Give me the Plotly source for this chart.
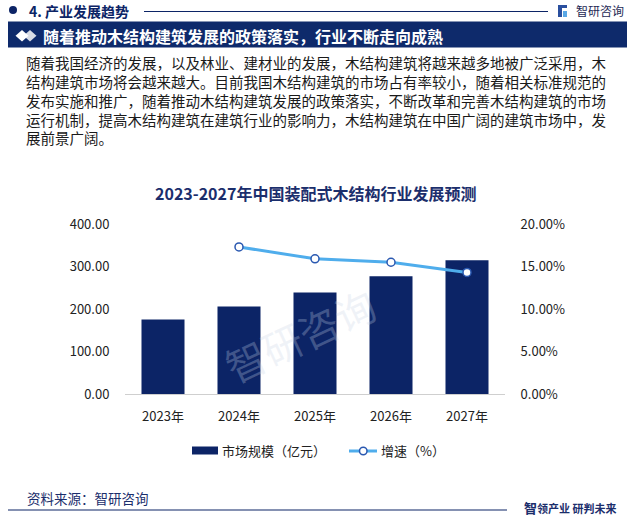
import plotly.graph_objects as go

# ---------------- data ----------------
years = ["2023年", "2024年", "2025年", "2026年", "2027年"]
market_size = [175.0, 206.0, 239.0, 277.0, 315.0]          # 市场规模（亿元）
growth_years = ["2024年", "2025年", "2026年", "2027年"]
growth_rate = [0.173, 0.159, 0.155, 0.143]                    # 增速（%）
left_ticks = [0, 100, 200, 300, 400]
right_ticks = [0, 0.05, 0.10, 0.15, 0.20]

W, H = 635, 522
FONT = "Noto Sans CJK SC"
NAVY = "#0c2466"
TITLE_NAVY = "#1b2e6c"
LINE_BLUE = "#4fadec"


def px(x):
    return x / W


def py(y):
    return 1 - y / H


fig = go.Figure()

fig.add_trace(go.Bar(
    x=years, y=market_size, name="市场规模（亿元）",
    marker=dict(color=NAVY, line=dict(width=0)),
    yaxis="y", showlegend=False,
))
fig.add_trace(go.Scatter(
    x=growth_years, y=growth_rate, name="增速（%）", mode="lines+markers",
    line=dict(color=LINE_BLUE, width=3),
    marker=dict(size=8, color="white", line=dict(color="#2a58b0", width=1.5)),
    yaxis="y2", showlegend=False,
))

tick_font = dict(family=FONT, size=13, color="#222222")

fig.update_layout(
    width=W, height=H, autosize=False,
    margin=dict(l=0, r=0, t=0, b=0, pad=0, autoexpand=False),
    paper_bgcolor="white", plot_bgcolor="white",
    showlegend=False,
    bargap=0.434,
    xaxis=dict(
        domain=[px(125), px(505)],
        type="category", categoryorder="array", categoryarray=years,
        showgrid=False, zeroline=False, automargin=False,
        showline=True, linecolor="#cfcfcf", linewidth=1,
        ticks="outside", ticklen=10, tickcolor="rgba(0,0,0,0)",
        tickfont=tick_font,
    ),
    yaxis=dict(
        domain=[py(394), py(224)],
        range=[0, 400], tickvals=left_ticks, tickformat=".2f",
        showgrid=False, zeroline=False, showline=False, automargin=False,
        ticks="outside", ticklen=12, tickcolor="rgba(0,0,0,0)",
        tickfont=tick_font,
    ),
    yaxis2=dict(
        domain=[py(394), py(224)],
        overlaying="y", side="right", anchor="x",
        range=[0, 0.2], tickvals=right_ticks, tickformat=".2%",
        showgrid=False, zeroline=False, showline=False, automargin=False,
        ticks="outside", ticklen=12, tickcolor="rgba(0,0,0,0)",
        tickfont=tick_font,
    ),
)

shapes = []
annotations = []

# ---------- faint watermark ----------
annotations.append(dict(x=px(300), y=py(335), xref="paper", yref="paper", text="智研咨询",
                        showarrow=False, textangle=-25,
                        font=dict(family=FONT, size=40, color="rgba(200,212,230,0.28)")))

# ---------- header ----------
shapes.append(dict(type="circle", xref="paper", yref="paper",
                   x0=px(9), x1=px(17), y0=py(14), y1=py(6),
                   fillcolor=NAVY, line=dict(width=0)))
annotations.append(dict(x=px(27), y=py(11.5), xref="paper", yref="paper",
                        xanchor="left", yanchor="middle", showarrow=False,
                        text="<b>4. 产业发展趋势</b>",
                        font=dict(family=FONT, size=14, color=NAVY)))
shapes.append(dict(type="line", xref="paper", yref="paper",
                   x0=px(144), x1=px(548), y0=py(11.5), y1=py(11.5),
                   line=dict(color=NAVY, width=1)))
# logo icon
shapes.append(dict(type="rect", xref="paper", yref="paper",
                   x0=px(558), x1=px(562), y0=py(17), y1=py(5),
                   fillcolor="#2a4f9e", line=dict(width=0)))
shapes.append(dict(type="rect", xref="paper", yref="paper",
                   x0=px(562), x1=px(567), y0=py(8), y1=py(5),
                   fillcolor="#2a4f9e", line=dict(width=0)))
shapes.append(dict(type="rect", xref="paper", yref="paper",
                   x0=px(563), x1=px(567), y0=py(17), y1=py(11),
                   fillcolor="#5aa8e6", line=dict(width=0)))
annotations.append(dict(x=px(574), y=py(10.5), xref="paper", yref="paper",
                        xanchor="left", yanchor="middle", showarrow=False,
                        text="智研咨询",
                        font=dict(family=FONT, size=12, color="#1e2a55")))

# banner
shapes.append(dict(type="rect", xref="paper", yref="paper",
                   x0=px(8), x1=px(627), y0=py(47.5), y1=py(21.5),
                   fillcolor="#0e2a6b", line=dict(width=0), layer="below"))
shapes.append(dict(type="path", xref="paper", yref="paper",
                   path=f"M {px(30)} {py(30)} L {px(36.5)} {py(35.7)} L {px(30)} {py(41.4)} L {px(23.5)} {py(35.7)} Z",
                   fillcolor="#d9dde6", line=dict(width=0)))
shapes.append(dict(type="path", xref="paper", yref="paper",
                   path=f"M {px(22)} {py(30)} L {px(28.5)} {py(35.7)} L {px(22)} {py(41.4)} L {px(15.5)} {py(35.7)} Z",
                   fillcolor="white", line=dict(width=0)))
annotations.append(dict(x=px(41), y=py(35.5), xref="paper", yref="paper",
                        xanchor="left", yanchor="middle", showarrow=False,
                        text="<b>随着推动木结构建筑发展的政策落实，行业不断走向成熟</b>",
                        font=dict(family=FONT, size=16, color="white")))

# paragraph (one text block, explicit line breaks as in the reference)
para_lines = [
    "随着我国经济的发展，以及林业、建材业的发展，木结构建筑将越来越多地被广泛采用，木",
    "结构建筑市场将会越来越大。目前我国木结构建筑的市场占有率较小，随着相关标准规范的",
    "发布实施和推广，随着推动木结构建筑发展的政策落实，不断改革和完善木结构建筑的市场",
    "运行机制，提高木结构建筑在建筑行业的影响力，木结构建筑在中国广阔的建筑市场中，发",
    "展前景广阔。",
]
annotations.append(dict(x=px(24.5), y=py(100), xref="paper", yref="paper",
                        xanchor="left", yanchor="middle", align="left", showarrow=False,
                        borderpad=0,
                        text="<br>".join(para_lines),
                        font=dict(family=FONT, size=14.5, color="#1a1a1a")))

# chart title
annotations.append(dict(x=px(315), y=py(193), xref="paper", yref="paper",
                        xanchor="center", yanchor="middle", showarrow=False,
                        text="<b>2023-2027年中国装配式木结构行业发展预测</b>",
                        font=dict(family=FONT, size=16, color=TITLE_NAVY)))

# ---------- legend (drawn manually) ----------
shapes.append(dict(type="rect", xref="paper", yref="paper",
                   x0=px(192), x1=px(218), y0=py(454.5), y1=py(446.5),
                   fillcolor=NAVY, line=dict(width=0)))
annotations.append(dict(x=px(220), y=py(450.5), xref="paper", yref="paper",
                        xanchor="left", yanchor="middle", showarrow=False,
                        text="市场规模（亿元）", font=dict(family=FONT, size=13, color="#222222")))
shapes.append(dict(type="line", xref="paper", yref="paper",
                   x0=px(349), x1=px(377), y0=py(451), y1=py(451),
                   line=dict(color=LINE_BLUE, width=3)))
shapes.append(dict(type="circle", xref="paper", yref="paper",
                   x0=px(359.5), x1=px(367), y0=py(454.7), y1=py(447.2),
                   fillcolor="white", line=dict(color="#2a58b0", width=1.5)))
annotations.append(dict(x=px(379), y=py(450.5), xref="paper", yref="paper",
                        xanchor="left", yanchor="middle", showarrow=False,
                        text="增速（%）", font=dict(family=FONT, size=13, color="#222222")))

# ---------- footer ----------
annotations.append(dict(x=px(24.5), y=py(498), xref="paper", yref="paper",
                        xanchor="left", yanchor="middle", showarrow=False,
                        text="资料来源：智研咨询", font=dict(family=FONT, size=13.5, color=TITLE_NAVY)))
shapes.append(dict(type="line", xref="paper", yref="paper",
                   x0=px(8), x1=px(507), y0=py(510), y1=py(510),
                   line=dict(color=NAVY, width=1.2)))
annotations.append(dict(x=px(522), y=py(507.5), xref="paper", yref="paper",
                        xanchor="left", yanchor="middle", showarrow=False,
                        text="<b><span style='font-size:13px'>智</span>领产业 研判未来</b>",
                        font=dict(family=FONT, size=11, color=TITLE_NAVY)))

fig.update_layout(shapes=shapes, annotations=annotations)
fig.write_html("out.html", config={"responsive": False, "displayModeBar": False},
               post_script="document.body.style.margin='0';document.body.style.padding='0';")
